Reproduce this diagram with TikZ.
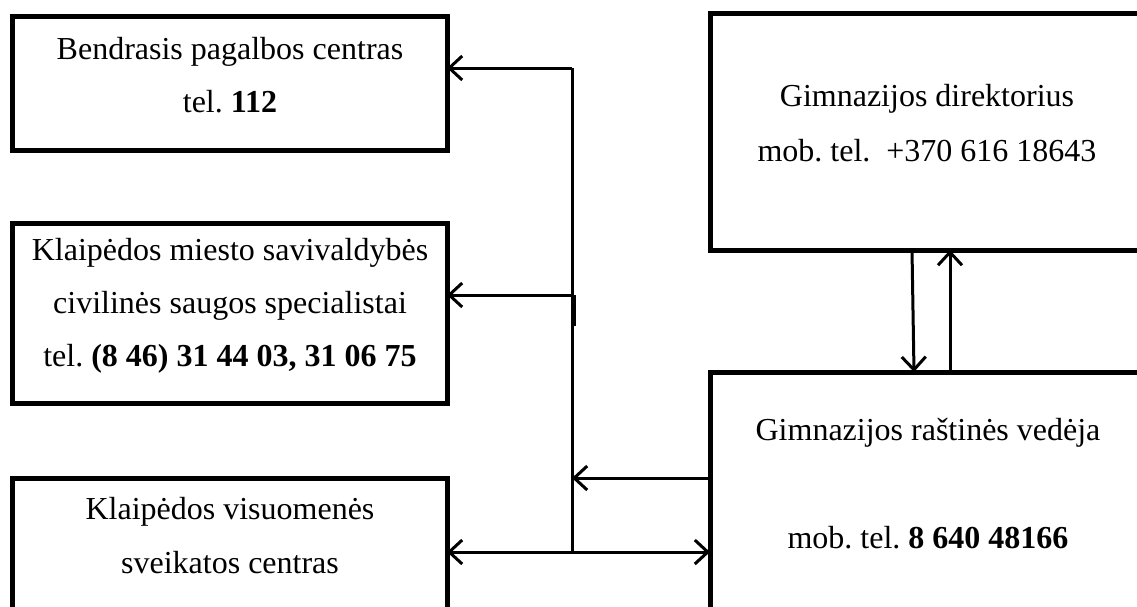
\documentclass[tikz,border=0pt]{standalone}
\usepackage{fontspec}
\setmainfont{Liberation Serif}
\usetikzlibrary{arrows.meta}
\frenchspacing

\begin{document}
\begin{tikzpicture}[x=1pt, y=-1pt, >={Straight Barb[length=13pt, width=24pt]},
	box/.style={rectangle, draw, line width=5pt, anchor=north west, inner sep=0pt, outer sep=0pt},
	txt/.style={anchor=base, inner sep=0pt, font=\fontsize{32}{54}\selectfont},
	link/.style={line width=3pt}]
	\useasboundingbox (0,0) rectangle (1137,606);
	\clip (0,0) rectangle (1137,606);

	\node[box, minimum width=434.5pt, minimum height=134pt](pagalba) at (12.5,16){};
	\node[box, minimum width=434.5pt, minimum height=180pt](savivaldybe) at (12.5,223){};
	\node[box, minimum width=434.5pt, minimum height=200pt](sveikata) at (12.5,478){};
	\node[box, minimum width=440pt, minimum height=237pt](direktorius) at (710,13){};
	\node[box, minimum width=440pt, minimum height=300pt](rastine) at (710,372){};

	\node[txt](pagalba1) at (230,59){Bendrasis pagalbos centras};
	\node[txt](pagalba2) at (230,112){tel. \textbf{112}};
	\node[txt](savivaldybe1) at (230,260){Klaipėdos miesto savivaldybės};
	\node[txt](savivaldybe2) at (230,313){civilinės saugos specialistai};
	\node[txt](savivaldybe3) at (230,366){tel. \textbf{(8 46) 31 44 03, 31 06 75}};
	\node[txt](sveikata1) at (230,519){Klaipėdos visuomenės};
	\node[txt](sveikata2) at (230,573){sveikatos centras};
	\node[txt](direktorius1) at (927,106){Gimnazijos direktorius};
	\node[txt](direktorius2) at (927,161){mob. tel.\ \ +370 616 18643};
	\node[txt](rastine1) at (928,440){Gimnazijos raštinės vedėja};
	\node[txt](rastine2) at (928,548){mob. tel. \textbf{8 640 48166}};

	\coordinate (top) at (572,68);
	\coordinate (mid) at (572,295);
	\coordinate (low) at (572,478);
	\coordinate (bot) at (572,552);

	\draw [link] (top) -- (bot);
	\draw [line width=4.5pt] (573.5,295) -- (573.5,326);
	\draw [link, ->] (top) -- (top -| pagalba.east);
	\draw [link, ->] (mid) -- (mid -| savivaldybe.east);
	\draw [link, ->] (low -| rastine.west) -- (low);
	\draw [link, <->] (bot -| sveikata.east) -- (bot -| rastine.west);
	\draw [link, ->] ([xshift=202pt]direktorius.south west) -- ([xshift=204pt]rastine.north west);
	\draw [link, ->] ([xshift=240pt]rastine.north west) -- ([xshift=240pt]direktorius.south west);
\end{tikzpicture}
\end{document}
